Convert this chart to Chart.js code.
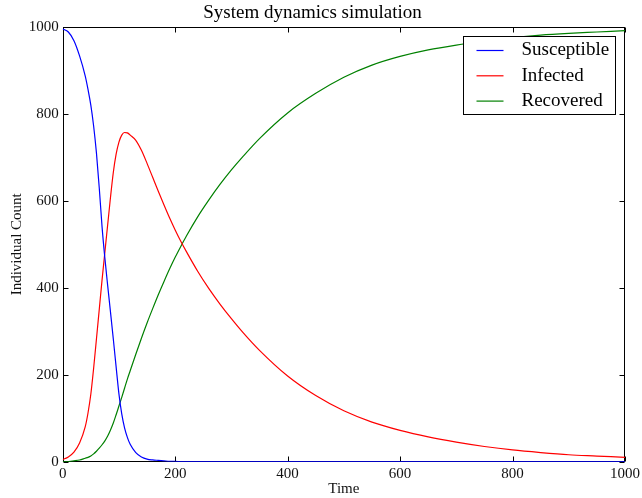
<!DOCTYPE html>
<html>
<head>
<meta charset="utf-8">
<script src="https://cdn.jsdelivr.net/npm/chart.js@4/dist/chart.umd.min.js"></script>
<style>
  html, body { margin: 0; padding: 0; background: #fff; }
  #wrap { position: relative; width: 642px; height: 498px; }
</style>
</head>
<body>
<div id="wrap"><canvas id="c" width="642" height="498"></canvas></div>
<script>
const times = [0,10,20,30,40,45,50,55,60,65,70,75,80,85,90,95,100,105,110,115,120,130,140,150,160,170,180,190,200,210,220,240,260,280,300,320,350,400,450,500,550,600,650,700,750,800,850,900,950,1000];
const susceptible = [995,988,968,933,887,856,820,772,710,630,540,468,405,344,282,218,156,110,78,56,40,21,11,6,4,3,2,1,1,0,0,0,0,0,0,0,0,0,0,0,0,0,0,0,0,0,0,0,0,0];
const infected = [5,11,22,43,80,112,155,215,282,350,418,482,545,608,665,707,735,751,757,756,751,739,716,686,654,622,591,561,533,507,483,438,398,362,329,298,256,197,152,117,91,72,57,45,35,27,21,16,13,10];
const recovered = [0,0.5,2,4,8,10,13,18,24,31,39,48,59,73,89,108,128,148,169,190,209,247,284,319,352,384,414,443,470,495,519,563,602,638,671,701,743,802,847,884,912,932,947,958,967,975,981,985,988,991];
const seriesNames = ['Susceptible', 'Infected', 'Recovered'];
const seriesColors = ['#0000ff', '#ff0000', '#008000'];
const xTickValues = [0, 200, 400, 600, 800, 1000];
const yTickValues = [0, 200, 400, 600, 800, 1000];

const FONT = "'Liberation Serif', 'Times New Roman', serif";
Chart.defaults.font.family = FONT;
Chart.defaults.color = '#111';

function pts(vals) { return times.map((t, i) => ({ x: t, y: vals[i] })); }

const frameTicks = {
  id: 'frameTicks',
  beforeDatasetsDraw(chart) {
    const { ctx, chartArea: a } = chart;
    const xs = chart.scales.x, ys = chart.scales.y;
    ctx.save();
    ctx.strokeStyle = '#000';
    ctx.lineWidth = 1;
    const L = Math.round(a.left) + 0.5, R = Math.round(a.right) - 0.5;
    const T = Math.round(a.top) + 0.5, B = Math.round(a.bottom) - 0.5;
    ctx.strokeRect(L, T, R - L, B - T);
    const len = 5;
    ctx.beginPath();
    xTickValues.forEach(v => {
      const px = Math.round(xs.getPixelForValue(v)) + 0.5;
      ctx.moveTo(px, B); ctx.lineTo(px, B - len);
      ctx.moveTo(px, T); ctx.lineTo(px, T + len);
    });
    yTickValues.forEach(v => {
      const py = Math.round(ys.getPixelForValue(v)) + 0.5;
      ctx.moveTo(L, py); ctx.lineTo(L + len, py);
      ctx.moveTo(R, py); ctx.lineTo(R - len, py);
    });
    ctx.stroke();
    ctx.restore();
  }
};

const boxLegend = {
  id: 'boxLegend',
  afterDraw(chart) {
    const { ctx, chartArea: a } = chart;
    const bx = Math.round(a.right) - 9.5 - 152, by = Math.round(a.top) + 9.5;
    const bw = 152, bh = 78;
    ctx.save();
    ctx.fillStyle = '#fff';
    ctx.fillRect(bx, by, bw, bh);
    ctx.strokeStyle = '#000';
    ctx.lineWidth = 1;
    ctx.strokeRect(bx, by, bw, bh);
    ctx.font = '19px ' + FONT;
    ctx.textBaseline = 'middle';
    ctx.textAlign = 'left';
    chart.data.datasets.forEach((ds, i) => {
      const y = by + 14 + i * 25.3;
      ctx.strokeStyle = ds.borderColor;
      ctx.lineWidth = 1.2;
      ctx.beginPath();
      ctx.moveTo(bx + 13, y); ctx.lineTo(bx + 40, y);
      ctx.stroke();
      ctx.fillStyle = '#000';
      ctx.fillText(ds.label, bx + 58, y);
    });
    ctx.restore();
  }
};

new Chart(document.getElementById('c'), {
  type: 'line',
  data: {
    datasets: [susceptible, infected, recovered].map((vals, i) => ({
      label: seriesNames[i],
      data: pts(vals),
      borderColor: seriesColors[i],
      backgroundColor: seriesColors[i],
      borderWidth: 1.2,
      pointRadius: 0,
      fill: false,
      cubicInterpolationMode: 'monotone'
    }))
  },
  options: {
    responsive: false,
    animation: false,
    devicePixelRatio: 1,
    layout: { padding: { left: 0, right: 17, top: 0, bottom: 0 } },
    plugins: {
      legend: { display: false },
      tooltip: { enabled: false },
      title: {
        display: true,
        text: 'System dynamics simulation',
        color: '#000',
        font: { size: 19, weight: 'normal', family: FONT },
        padding: { top: 2, bottom: 2 }
      }
    },
    scales: {
      x: {
        type: 'linear',
        min: 0, max: 1000,
        afterBuildTicks(s) { s.ticks = xTickValues.map(v => ({ value: v })); },
        ticks: { font: { size: 15 }, padding: 3, color: '#111', maxRotation: 0, callback: v => String(v) },
        grid: { display: false, drawTicks: false },
        border: { display: false },
        title: { display: true, text: 'Time', font: { size: 15 }, color: '#111', padding: { top: 0, bottom: 0 } },
        afterFit(s) { s.height = 36.3; s.paddingLeft = 0; s.paddingRight = 0; }
      },
      y: {
        type: 'linear',
        min: 0, max: 1000,
        afterBuildTicks(s) { s.ticks = yTickValues.map(v => ({ value: v })); },
        ticks: { font: { size: 15 }, padding: 4, color: '#111', callback: v => String(v) },
        grid: { display: false, drawTicks: false },
        border: { display: false },
        title: { display: true, text: 'Individual Count', font: { size: 15 }, color: '#111', padding: { top: 8, bottom: 0 } },
        afterFit(s) { s.width = 62.7; s.paddingTop = 0; s.paddingBottom = 0; }
      }
    }
  },
  plugins: [frameTicks, boxLegend]
});
</script>
</body>
</html>
